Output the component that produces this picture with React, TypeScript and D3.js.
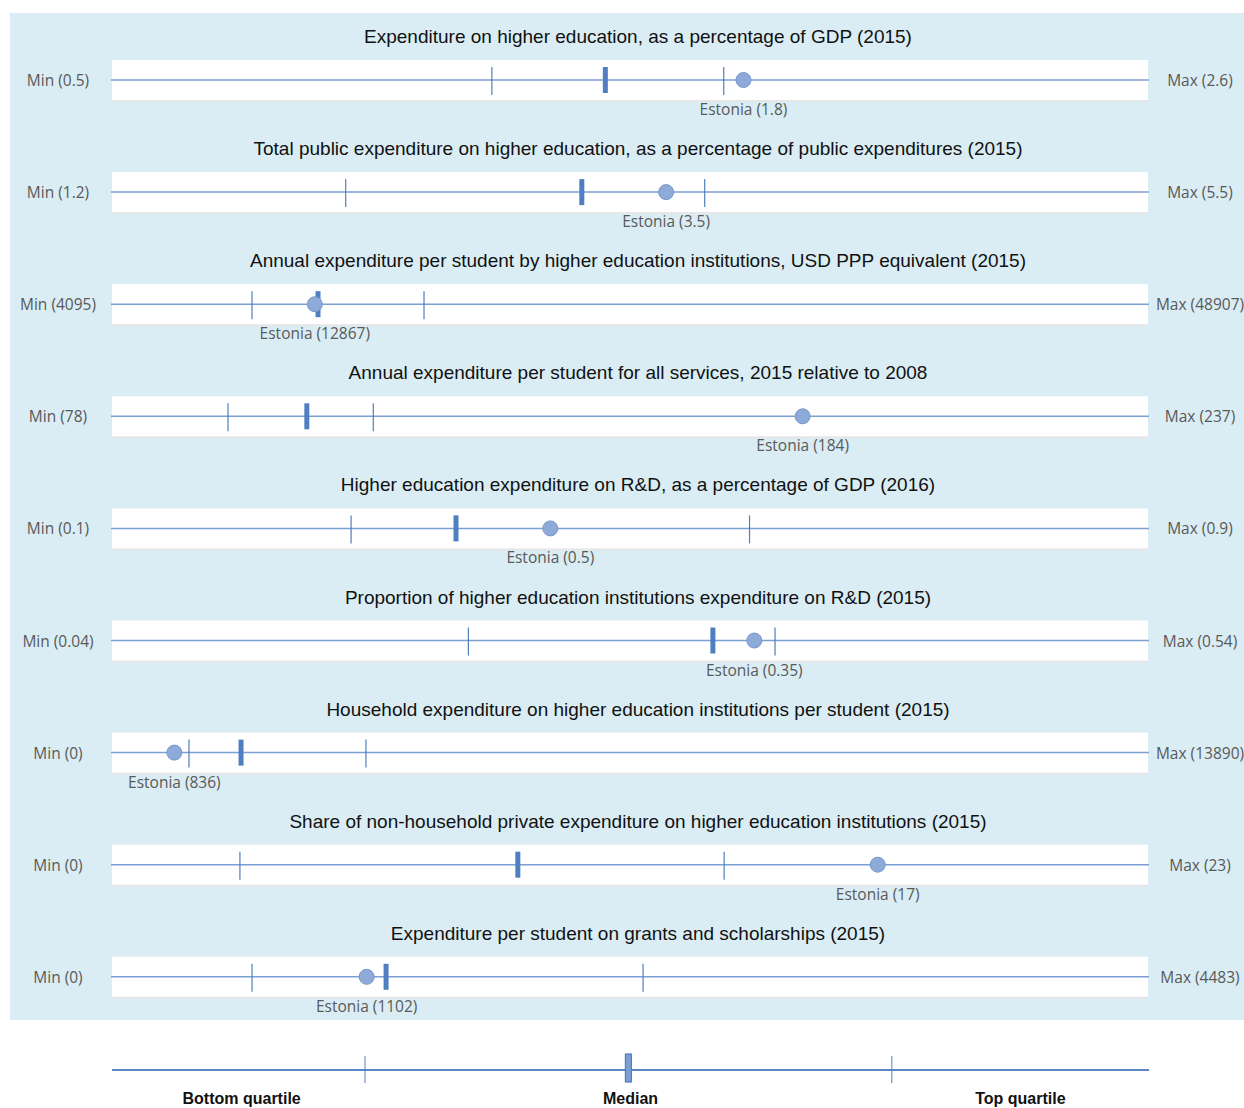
import React from "react";
import * as d3 from "d3";

// Indicator titles, one per row
const titles = [
  "Expenditure on higher education, as a percentage of GDP (2015)",
  "Total public expenditure on higher education, as a percentage of public expenditures (2015)",
  "Annual expenditure per student by higher education institutions,  USD PPP equivalent (2015)",
  "Annual expenditure per student for all services, 2015 relative to 2008",
  "Higher education expenditure on R&D, as a percentage of GDP (2016)",
  "Proportion of higher education institutions  expenditure on R&D (2015)",
  "Household expenditure on higher education institutions  per student (2015)",
  "Share of non-household private expenditure on higher education institutions  (2015)",
  "Expenditure per student on grants and scholarships (2015)",
];

// Distribution of each indicator across countries
const minValues = [0.5, 1.2, 4095, 78, 0.12, 0.04, 0, 0, 0];
const maxValues = [2.6, 5.5, 48907, 237, 0.9, 0.54, 13890, 23, 4483];
const q1Values = [1.27, 2.17, 10151, 95.8, 0.3, 0.212, 1032, 2.84, 606];
const medianValues = [1.5, 3.15, 13006, 107.9, 0.379, 0.33, 1730, 9.01, 1186];
const q3Values = [1.74, 3.66, 17591, 118.1, 0.6, 0.36, 3405, 13.59, 2298];
const estoniaValues = [1.78, 3.5, 12867, 184, 0.45, 0.35, 836, 17, 1102];
const decimals = [1, 1, 0, 0, 1, 2, 0, 0, 0];

// Legend strip
const legendMarks = [0.244, 0.498, 0.752];
const legendLabels = ["Bottom quartile", "Median", "Top quartile"];
const legendLabelPos = [0.125, 0.5, 0.876];

const fmt = (v: number, d: number) => {
  const p = Math.pow(10, d);
  return (Math.round(v * p) / p).toFixed(d);
};

const W = 1244;
const H = 1108;
const X0 = 112;
const X1 = 1148;
const ROW0 = 80;
const STEP = 112.1;

const titleFont = "'Liberation Sans Narrow', 'Arial Narrow', 'Liberation Sans', sans-serif";
const labelFont = "'Open Sans', Lato, sans-serif";

const lineColor = "#7b9ed3";
const markColor = "#4f7fc0";

export default function App() {
  return (
    <div style={{ position: "absolute", left: 0, top: 0 }}>
      <svg width={W} height={H} style={{ display: "block" }}>
        <rect x={0} y={0} width={W} height={H} fill="#ffffff" />
        <rect x={10} y={13} width={W - 10} height={1007} fill="#daedf4" />
        {titles.map((title, i) => {
          const cy = ROW0 + i * STEP;
          const x = d3
            .scaleLinear()
            .domain([minValues[i], maxValues[i]])
            .range([X0, X1]);
          const d = decimals[i];
          return (
            <g key={i}>
              <text
                x={(X0 + X1) / 2 + 8}
                y={cy - 37}
                textAnchor="middle"
                fontFamily={titleFont}
                fontSize={19}
                fill="#111"
              >
                {title}
              </text>
              <rect x={X0} y={cy - 20} width={X1 - X0} height={42} fill="#e4e6e8" />
              <rect x={X0} y={cy - 20} width={X1 - X0} height={40} fill="#ffffff" />
              <line
                x1={X0 - 1}
                x2={X1 + 1}
                y1={cy}
                y2={cy}
                stroke={lineColor}
                strokeWidth={1.5}
              />
              {[q1Values[i], q3Values[i]].map((v, k) => (
                <line
                  key={k}
                  x1={x(v)}
                  x2={x(v)}
                  y1={cy - 13}
                  y2={cy + 15}
                  stroke={markColor}
                  strokeWidth={1.2}
                />
              ))}
              <rect
                x={x(medianValues[i]) - 2.5}
                y={cy - 13}
                width={5}
                height={26}
                fill={markColor}
              />
              <circle
                cx={x(estoniaValues[i])}
                cy={cy}
                r={7.5}
                fill="#8eaad9"
                stroke="#7596cc"
                strokeWidth={1}
              />
              <text
                x={x(estoniaValues[i])}
                y={cy + 35}
                textAnchor="middle"
                fontFamily={labelFont}
                fontSize={15.5}
                fill="#595959"
              >
                {`Estonia (${fmt(estoniaValues[i], d)})`}
              </text>
              <text
                x={58}
                y={cy + 6}
                textAnchor="middle"
                fontFamily={labelFont}
                fontSize={15.5}
                fill="#595959"
              >
                {`Min (${fmt(minValues[i], d)})`}
              </text>
              <text
                x={1200}
                y={cy + 6}
                textAnchor="middle"
                fontFamily={labelFont}
                fontSize={15.5}
                fill="#595959"
              >
                {`Max (${fmt(maxValues[i], d)})`}
              </text>
            </g>
          );
        })}
        {(() => {
          const lx = d3.scaleLinear().domain([0, 1]).range([X0, X1 + 1]);
          const ly = 1070;
          return (
            <g>
              <line x1={lx(0)} x2={lx(1)} y1={ly} y2={ly} stroke="#5b86c4" strokeWidth={2} />
              {legendMarks.map((v, k) =>
                k === 1 ? (
                  <rect
                    key={k}
                    x={lx(v) - 3}
                    y={ly - 16}
                    width={6}
                    height={28}
                    fill="#7a9fd6"
                    stroke="#4f7fc0"
                    strokeWidth={1.2}
                  />
                ) : (
                  <line
                    key={k}
                    x1={lx(v)}
                    x2={lx(v)}
                    y1={ly - 14}
                    y2={ly + 13}
                    stroke="#4f7fc0"
                    strokeWidth={1}
                  />
                )
              )}
              {legendLabels.map((t, k) => (
                <text
                  key={k}
                  x={lx(legendLabelPos[k])}
                  y={1104}
                  textAnchor="middle"
                  fontFamily={titleFont}
                  fontWeight="bold"
                  fontSize={16}
                  fill="#111"
                >
                  {t}
                </text>
              ))}
            </g>
          );
        })()}
      </svg>
    </div>
  );
}
